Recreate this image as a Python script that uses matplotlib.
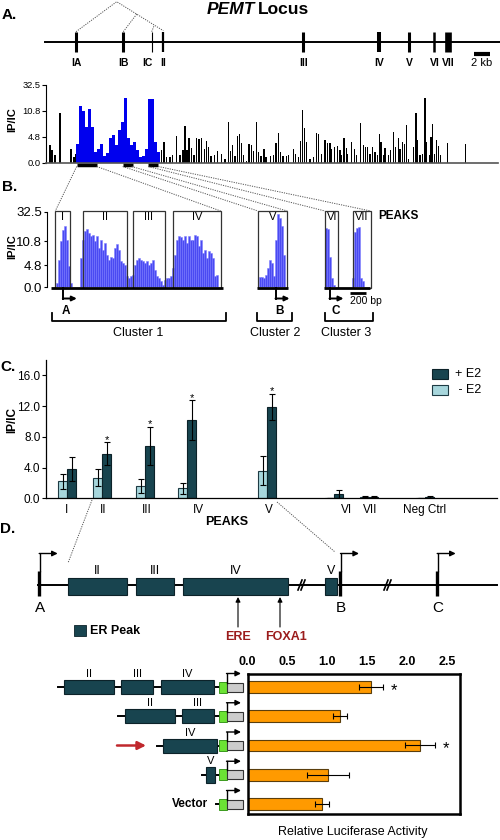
import numpy as np
import matplotlib.pyplot as plt
from matplotlib.patches import Rectangle

plt.rcParams['font.family'] = ['Liberation Sans', 'DejaVu Sans']

# ---------------- A. PEMT locus + ChIP-chip track ----------------
exon_names = ["IA", "IB", "IC", "II", "III", "IV", "V", "VI", "VII"]
exon_pos = [76, 123.3, 151.7, 163.3, 303.3, 379.3, 409, 434.3, 448.3]

chip_pos = [50, 52, 55, 60, 71, 74, 76,
            77.5, 80.5, 83.5, 86.5, 89.5, 92.5, 95.5, 98.5, 101.5, 104.5,
            107.5, 110.5, 113.5, 116.5, 119.5, 122.5, 125.5, 128.5, 131.5,
            134.5, 137.5, 140.5, 143.5, 146.5, 149.5, 152.5, 155.5, 158.5,
            161.7, 164, 166.7, 170, 172.7, 176.7, 180, 183, 185, 187, 189,
            191.7, 194, 196.7, 199, 201.7, 204.3, 206.7, 208.3, 211, 214.3,
            217.7, 221.7, 225, 228.3, 230.7, 232.3, 235, 237.7, 239.3, 241.7,
            243.3, 246.7, 249, 251.7, 253.3, 256.7, 258.3, 261, 264, 266,
            270.7, 273.3, 276, 278.3, 280.7, 283, 286.7, 288.3, 293.3, 295.7,
            298.3, 300.7, 302.7, 304.3, 306.7, 310, 313.3, 316.7, 318.3, 321.7,
            325, 327.3, 330, 331.7, 334.3, 337.7, 340, 341.7, 344, 346.7, 347.7,
            351.7, 354.3, 356.7, 360.7, 363.3, 365.7, 367.7, 370, 372.7, 375,
            377.3, 379.3, 381, 383.3, 385, 388.3, 390.7, 393.3, 395.7, 398.3,
            400, 402.3, 404.3, 406.7, 408.3, 413.3, 416, 417.7, 420, 422.3, 425,
            426.7, 430, 431, 432.7, 434.3, 436.7, 438.3, 440.7, 447.3, 465.7]
chip_val = [3.2, 2.3, 1.4, 10.3, 2.6, 1.0, 1.7,
            3.5, 15.0, 11.0, 7.0, 12.0, 7.0, 2.0, 2.5, 3.5, 1.3,
            1.8, 4.5, 5.2, 3.2, 6.4, 8.3, 22.0, 4.5, 3.3,
            3.9, 2.3, 1.0, 1.2, 2.6, 20.8, 21.0, 3.8, 2.0,
            2.3, 3.9, 1.0, 1.0, 1.4, 5.0, 1.4, 2.3, 7.3, 2.3, 4.5,
            2.7, 1.4, 4.5, 4.4, 4.5, 2.6, 4.0, 2.9, 1.2, 1.4,
            2.1, 1.7, 0.7, 8.3, 2.1, 3.2, 1.2, 5.0, 5.5, 3.6,
            1.4, 0.4, 3.4, 3.2, 2.1, 8.3, 2.0, 1.2, 2.5, 1.0,
            1.2, 1.4, 3.6, 5.7, 1.9, 1.2, 1.2, 1.5, 2.5, 1.7,
            1.0, 4.0, 11.2, 6.8, 3.9, 0.6, 1.0, 5.7, 5.5, 1.7,
            4.2, 3.6, 3.6, 2.6, 2.9, 3.1, 2.3, 1.4, 4.6, 2.7, 1.7,
            3.9, 2.5, 1.4, 7.9, 3.2, 2.9, 3.0, 1.7, 2.9, 1.9,
            1.5, 5.5, 3.9, 1.4, 2.8, 1.5, 2.4, 5.8, 2.9, 4.5,
            2.6, 3.9, 3.4, 7.5, 0.6, 2.9, 10.3, 4.2, 1.4, 1.7, 21.4,
            3.9, 1.5, 4.7, 7.7, 1.7, 4.2, 3.1, 1.4, 3.7, 3.4]
enriched = (77, 160)   # blue part of the track
ipic_ticks = [0.0, 4.8, 10.8, 32.5]

# ---------------- B. zoom on the clusters ----------------
peak_names = ["I", "II", "III", "IV", "V", "VI", "VII"]
peakI_val = [0.9, 6.2, 11.3, 19.4, 21.9, 12.0, 4.6, 0.9]
c1_val = [6.6, 12.0, 18, 20, 17, 14.5, 15.7, 10.8, 14.5, 9.1, 12, 8.7, 10.4,
          7.5, 6.2, 7.0, 6.6, 9.1, 10, 8.7, 5.8, 5.4, 5.0, 2.4, 2.0, 2.4, 2.7,
          5.0, 6.2, 6.6, 6.2, 5.8, 5.4, 5.8, 5.0, 5.4, 6.2, 3.8, 2.4, 2.0, 1.3,
          0.5, 1.6, 2.0, 2.0, 2.4, 4.2, 7.5, 12, 15, 14, 12, 14.5, 10.4, 14.5,
          12, 12, 15.7, 14.5, 9.5, 12, 7.9, 8.7, 6.6, 8.3, 7.9, 6.6, 2.4, 2.7]
c2_val = [2.2, 2.2, 2.0, 2.7, 4.2, 6.2, 5.4, 2.4, 12, 31, 28, 22, 7.5]
vi_val = [20.7, 19.5, 7.0, 2.0, 0.5]
vii_val = [2.0, 17.5, 20.7, 21.5, 2.0, 1.3]
b_segments = [(56.7, peakI_val), (81, c1_val), (260, c2_val), (326, vi_val), (353, vii_val)]

# ---------------- C. ChIP-qPCR ----------------
c_peaks = ["I", "II", "III", "IV", "V", "VI", "VII", "Neg Ctrl"]
plus_e2 = [3.8, 5.8, 6.8, 10.2, 11.9, 0.6, 0.2, 0.2]
plus_err = [1.6, 1.5, 2.5, 2.6, 1.7, 0.5, 0.05, 0.1]
minus_e2 = [2.2, 2.7, 1.6, 1.3, 3.6, 0.05, 0.2, 0.05]
minus_err = [1.0, 1.1, 0.95, 0.7, 1.9, 0.0, 0.05, 0.0]
c_sig = [False, True, True, True, True, False, False, False]

# ---------------- D. luciferase reporters ----------------
luc_val = [1.54, 1.16, 2.16, 1.01, 0.93]
luc_err = [0.15, 0.09, 0.19, 0.26, 0.09]
luc_sig = [True, False, True, False, False]

TEAL = '#18444f'
LIGHT = '#a7d6dc'
DOT = dict(color='#555555', lw=0.7, ls=(0, (1.2, 1.2)))

fig = plt.figure(figsize=(5, 8.4), dpi=100)


def px_axes(x0, y0, x1, y1):
    ax = fig.add_axes([x0 / 500, 1 - y1 / 840, (x1 - x0) / 500, (y1 - y0) / 840])
    ax.set_facecolor('none')
    return ax


def piecewise(grid):
    return (lambda v: np.interp(v, ipic_ticks, grid),
            lambda u: np.interp(u, grid, ipic_ticks))


def box(x, y, w, h, **kw):
    ov.add_patch(Rectangle((x, y), w, h, zorder=3, **kw))


ov = px_axes(0, 0, 500, 840)
ov.set_xlim(0, 500)
ov.set_ylim(840, 0)
ov.axis('off')
ov.set_zorder(5)

# ---- panel A: gene map
ov.text(2, 15, "A.", fontsize=11, fontweight='bold', va='center')
ov.text(255, 10, "PEMT", fontsize=12.5, fontweight='bold', style='italic', ha='right', va='center')
ov.text(258, 10, "Locus", fontsize=12.5, fontweight='bold', ha='left', va='center')
ov.plot([45, 500], [41.7, 41.7], color='k', lw=1.4)
exon_lw = [2.2, 2.2, 0.8, 1.6, 2.2, 2.9, 2.2, 1.8, 4.8]
for name, x, lw in zip(exon_names, exon_pos, exon_lw):
    ov.plot([x, x], [31.7, 51.7], color='k', lw=lw, solid_capstyle='butt')
    dx = -4 if name == "IC" else 0
    ov.text(x + dx, 63.3, name, fontsize=7.5, fontweight='bold', ha='center', va='center')
ov.plot([76, 116.7, 163.3], [31.7, 1.7, 30.7], **DOT)
ov.plot([123.3, 136.7], [31.7, 14.1], **DOT)
ov.plot([151.7, 154.3], [31.7, 25.1], **DOT)
ov.plot([474, 490], [54, 54], color='k', lw=3, solid_capstyle='butt')
ov.text(482, 63.3, "2 kb", fontsize=8, ha='center', va='center')

# ---- panel A: ChIP track
fA, gA = piecewise([0, 1, 2, 3])
axA = px_axes(46, 85, 498, 162.7)
axA.set_yscale('function', functions=(fA, gA))
pos = np.array(chip_pos)
val = np.array(chip_val)
blue = (pos >= enriched[0]) & (pos <= enriched[1])
axA.bar(pos[~blue], val[~blue], width=1.3, color='k', lw=0)
axA.bar(pos[blue], val[blue], width=3.05, color='#0000ee', lw=0)
axA.set_xlim(46, 498)
axA.set_ylim(0, 32.5)
axA.set_yticks(ipic_ticks, ["0.0", "4.8", "10.8", "32.5"])
axA.set_xticks([])
axA.minorticks_off()
axA.tick_params(axis='y', labelsize=6.7, length=3, width=0.8, pad=1)
for s in ['top', 'right']:
    axA.spines[s].set_visible(False)
axA.spines['left'].set_linewidth(0.8)
axA.spines['bottom'].set_color('#555555')
axA.spines['bottom'].set_linewidth(1.2)
ov.text(12, 120, "IP/IC", fontsize=8, fontweight='bold', rotation=90, ha='center', va='center')
for x0, x1 in [(76.7, 96.7), (122.7, 132.7), (148.3, 158.3)]:
    ov.plot([x0, x1], [165, 165], color='k', lw=2.5, solid_capstyle='butt')

# ---- panel B
ov.text(2, 187, "B.", fontsize=11, fontweight='bold', va='center')
fB, gB = piecewise([0, 21.7, 45.7, 75])
axB = px_axes(47, 211.7, 380, 287.3)
axB.set_yscale('function', functions=(fB, gB))
for start, vals in b_segments:
    axB.bar(start + 2 * np.arange(len(vals)), vals, width=2.1, color='#2a2af0',
            alpha=0.85, edgecolor='#7a7aff', lw=0.4)
axB.set_xlim(47, 380)
axB.set_ylim(0, 32.5)
axB.set_yticks(ipic_ticks, ["0.0", "4.8", "10.8", "32.5"])
axB.set_xticks([])
axB.minorticks_off()
axB.tick_params(axis='y', labelsize=9.5, length=2.5, width=0.8, pad=1)
for s in ['top', 'right', 'bottom']:
    axB.spines[s].set_visible(False)
axB.spines['left'].set_linewidth(0.8)
ov.text(12, 247, "IP/IC", fontsize=8, fontweight='bold', rotation=90, ha='center', va='center')

box_edges = [(55.3, 70), (82.7, 126.7), (133, 164.7), (173.3, 220.7),
             (258, 287.3), (325, 338.3), (352.7, 370.7)]
for name, (x0, x1) in zip(peak_names, box_edges):
    ov.add_patch(Rectangle((x0, 211), x1 - x0, 76.5, fill=False, ec='#333333', lw=0.9))
    ov.text((x0 + x1) / 2, 217.5, name, fontsize=8, ha='center', va='center')
ov.text(378, 216, "PEAKS", fontsize=8.5, fontweight='bold', ha='left', va='center')
for x0, x1 in [(50.7, 223), (257, 287.5), (324, 370)]:
    ov.plot([x0, x1], [288, 288], color='k', lw=2, solid_capstyle='butt')
for px, lab, lx in [(63.3, "A", 66), (276, "B", 279), (330, "C", 336)]:
    ov.plot([px, px], [288, 298.5], color='k', lw=1.4)
    ov.annotate('', xy=(px + 13.5, 298.5), xytext=(px - 0.5, 298.5),
                arrowprops=dict(arrowstyle='-|>', lw=1.4, color='k', mutation_scale=7,
                                shrinkA=0, shrinkB=0))
    ov.text(lx, 310.5, lab, fontsize=8.5, fontweight='bold', ha='center', va='center')
ov.plot([350, 366], [292.7, 292.7], color='k', lw=2, solid_capstyle='butt')
ov.text(366, 301.5, "200 bp", fontsize=7.5, ha='center', va='center')
for x0, x1, lab, lx in [(52.3, 225.7, "Cluster 1", 137.7), (256.7, 292.3, "Cluster 2", 275),
                        (325, 372.7, "Cluster 3", 345.7)]:
    ov.plot([x0, x0, x1, x1], [313.3, 320.7, 320.7, 313.3], color='k', lw=1.3)
    ov.text(lx, 332.5, lab, fontsize=9, ha='center', va='center')
# zoom lines from the track to the peak boxes
for (x0, x1) in [(76.7, 55.3), (96.7, 220.7), (122.7, 258), (131.7, 287.3), (148.3, 325), (158.3, 370.7)]:
    ov.plot([x0, x1], [166.5, 211], **DOT)

# ---- panel C
ov.text(0, 366.7, "C.", fontsize=11, fontweight='bold', va='center')
peak_x = np.array([67, 102, 145, 187, 267, 334, 369, 425])
label_x = [66, 103, 147, 198, 269, 347, 370, 425]
axC = px_axes(46, 360, 497, 498.3)
ekw = dict(lw=0.8, capthick=0.8)
axC.bar(peak_x - 4.5, minus_e2, 9, yerr=minus_err, color=LIGHT, edgecolor='#1e3b44',
        lw=0.8, capsize=2, error_kw=ekw)
axC.bar(peak_x + 4.5, plus_e2, 9, yerr=plus_err, color=TEAL, edgecolor='#0c2229',
        lw=0.8, capsize=2, error_kw=ekw)
for x, v, e, s in zip(peak_x, plus_e2, plus_err, c_sig):
    if s:
        axC.text(x + 4.5, v + e + 0.3, "*", fontsize=8, ha='center', va='center')
axC.set_xlim(46, 497)
axC.set_ylim(0, 18)
axC.set_yticks([0, 4, 8, 12, 16], ["0.0", "4.0", "8.0", "12.0", "16.0"])
axC.set_xticks(label_x, c_peaks)
axC.tick_params(axis='y', labelsize=8.5, length=3, width=0.8, pad=1)
axC.tick_params(axis='x', labelsize=8.5, length=0, pad=4)
for s in ['top', 'right']:
    axC.spines[s].set_visible(False)
axC.spines['left'].set_linewidth(0.9)
axC.spines['bottom'].set_linewidth(0.9)
ov.text(12, 420, "IP/IC", fontsize=8.5, fontweight='bold', rotation=90, ha='center', va='center')
ov.text(227, 522, "PEAKS", fontsize=9, fontweight='bold', ha='center', va='center')
box(431.7, 369, 16.6, 10, fc=TEAL, ec='#0c2229', lw=0.8)
box(431.7, 385, 16.6, 10, fc=LIGHT, ec='#1e3b44', lw=0.8)
ov.text(455, 374, "+ E2", fontsize=9, ha='left', va='center')
ov.text(455, 390, " - E2", fontsize=9, ha='left', va='center')
ov.plot([92, 68], [500, 563], **DOT)
ov.plot([277, 335], [502, 552], **DOT)

# ---- panel D: gene diagram
ov.text(0, 529, "D.", fontsize=11, fontweight='bold', va='center')
ov.plot([38, 497], [585, 585], color='k', lw=1.4)
for lab, x0, x1 in [("II", 68, 127), ("III", 136, 174), ("IV", 183, 288), ("V", 325, 337)]:
    box(x0, 577.5, x1 - x0, 17.5, fc=TEAL, ec='#0c2229', lw=0.8)
    ov.text((x0 + x1) / 2, 571.5, lab, fontsize=9, ha='center', va='center')
for bx in (300, 386):
    ov.plot([bx - 2, bx + 2], [590, 580], color='k', lw=1.2)
    ov.plot([bx + 1, bx + 5], [590, 580], color='k', lw=1.2)
for px, lab in [(38.7, "A"), (340, "B"), (436.7, "C")]:
    ov.plot([px, px], [571, 596], color='k', lw=2.4, solid_capstyle='butt', zorder=4)
    ov.plot([px + 1, px + 1], [571, 553.5], color='k', lw=1)
    ov.annotate('', xy=(px + 19, 553.5), xytext=(px + 0.5, 553.5),
                arrowprops=dict(arrowstyle='-|>', lw=1, color='k', mutation_scale=8,
                                shrinkA=0, shrinkB=0))
    ov.text(px + 1, 608.5, lab, fontsize=11, ha='center', va='center')
for ax_x in (238, 280):
    ov.annotate('', xy=(ax_x, 597), xytext=(ax_x, 627),
                arrowprops=dict(arrowstyle='-|>', lw=0.8, color='k', mutation_scale=7,
                                shrinkA=0, shrinkB=0))
ov.text(238, 637.5, "ERE", fontsize=9, fontweight='bold', color='#9b1c1c', ha='center', va='center')
ov.text(285.7, 637.5, "FOXA1", fontsize=9, fontweight='bold', color='#9b1c1c', ha='center', va='center')
box(74, 625, 12, 11, fc=TEAL, ec='#0c2229', lw=0.6)
ov.text(90, 631, "ER Peak", fontsize=9, fontweight='bold', ha='left', va='center')

# ---- panel D: luciferase reporters
axL = px_axes(247.5, 674, 460, 814)
rows = np.arange(len(luc_val))
axL.barh(rows, luc_val, height=0.4, xerr=luc_err, color='#ff9a00', edgecolor='#5a3e0c',
         lw=0.8, capsize=2.5, error_kw=ekw)
for r, v, e, s in zip(rows, luc_val, luc_err, luc_sig):
    if s:
        axL.text(v + e + 0.14, r + 0.12, "*", fontsize=12, ha='center', va='center')
axL.set_xlim(0, 2.66)
axL.set_ylim(4.342, -0.444)
axL.xaxis.tick_top()
axL.set_xticks([0, 0.5, 1.0, 1.5, 2.0, 2.5], ["0.0", "0.5", "1.0", "1.5", "2.0", "2.5"])
axL.set_yticks([])
axL.tick_params(axis='x', labelsize=9, length=0, pad=4)
for lbl in axL.get_xticklabels():
    lbl.set_fontweight('bold')
for s in axL.spines.values():
    s.set_linewidth(1.8)
ov.text(353, 832, "Relative Luciferase Activity", fontsize=9, ha='center', va='center')

construct_peaks = [
    [("II", 64, 114), ("III", 121, 153), ("IV", 161, 214)],
    [("II", 125, 175), ("III", 182, 214)],
    [("IV", 163, 217)],
    [("V", 206, 215)],
    [],
]
construct_start = [58, 118, 157, 202, 216]
for i, (peaks, x_start) in enumerate(zip(construct_peaks, construct_start)):
    y = 687 + 29.25 * i
    ov.plot([x_start, 220], [y, y], color='k', lw=1.4)
    for lab, x0, x1 in peaks:
        h = 15.5 if lab == "V" else 14
        box(x0, y - h / 2, x1 - x0, h, fc=TEAL, ec='#0c2229', lw=0.8)
        ov.text((x0 + x1) / 2, y - h / 2 - 1, lab, fontsize=8, ha='center', va='bottom')
    box(219.3, y - 5.5, 7.4, 11, fc='#6be234', ec='#3b9a1e', lw=0.7)
    box(226.7, y - 4.5, 16, 9, fc='#cccccc', ec='#333333', lw=0.8)
    ov.plot([227, 227], [y - 4.5, y - 13.5], color='k', lw=1, zorder=4)
    ov.annotate('', xy=(241, y - 13.5), xytext=(226.5, y - 13.5),
                arrowprops=dict(arrowstyle='-|>', lw=1, color='k', mutation_scale=8,
                                shrinkA=0, shrinkB=0))
ov.text(208, 804, "Vector", fontsize=8.5, fontweight='bold', ha='right', va='center')
ov.annotate('', xy=(146, 745.5), xytext=(117, 745.5),
            arrowprops=dict(arrowstyle='-|>', color='#c0282d', lw=1.8, mutation_scale=12,
                            shrinkA=0, shrinkB=0))

fig.savefig("out.png", dpi=100)
